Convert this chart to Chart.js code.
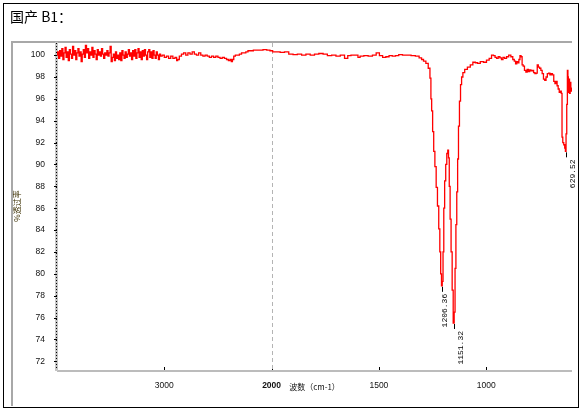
<!DOCTYPE html>
<html><head><meta charset="utf-8">
<script src="https://cdn.jsdelivr.net/npm/chart.js@4.4.0/dist/chart.umd.min.js"></script>
<style>html,body{margin:0;padding:0;background:#fff;}canvas{display:block;}</style>
</head><body>
<canvas id="c" width="586" height="413"></canvas>
<script>
// ---------- text ----------
const chartTitle = '国产 B1：';
const xAxisTitle = '波数（cm-1）';
const yAxisTitle = '%透过率';

// ---------- ticks ----------
const xTickWavenumbers = [3000, 2000, 1500, 1000];
const xTickLabels = ['3000', '2000', '1500', '1000'];
const yTickValues = [72, 74, 76, 78, 80, 82, 84, 86, 88, 90, 92, 94, 96, 98, 100];
const yTickLabels = ['72', '74', '76', '78', '80', '82', '84', '86', '88', '90', '92', '94', '96', '98', '100'];

// ---------- labelled peaks ----------
const peakWavenumbers = [1206.36, 1151.32, 629.52];
const peakLabels = ['1206.36', '1151.32', '629.52'];

// ---------- spectrum: [wavenumber cm-1, %T] ----------
const spectrumHigh = [ // 4000 - 3040 (noisy)
 [4000,100.0],[3990,100.3],[3980,99.7],[3970,100.4],[3960,99.9],[3950,100.6],[3940,99.6],[3930,100.2],[3920,100.7],[3910,99.8],
 [3900,100.3],[3890,99.5],[3880,100.5],[3870,100.1],[3860,99.7],[3850,100.8],[3840,100.0],[3830,100.4],[3820,99.6],[3810,100.2],
 [3800,100.6],[3790,99.9],[3780,100.3],[3770,99.4],[3760,100.1],[3750,100.5],[3740,99.8],[3730,100.9],[3720,100.2],[3710,100.6],
 [3700,99.7],[3690,100.3],[3680,100.0],[3670,100.7],[3660,99.8],[3650,100.4],[3640,100.1],[3630,99.6],[3620,100.5],[3610,100.0],
 [3600,100.3],[3590,99.9],[3580,100.6],[3570,100.1],[3560,99.7],[3550,100.2],[3540,100.0],[3530,100.4],[3520,99.9],[3510,100.2],
 [3500,100.8],[3490,99.4],[3480,99.8],[3470,100.1],[3460,99.5],[3450,100.3],[3440,99.7],[3430,100.0],[3420,99.6],[3410,100.2],
 [3400,99.5],[3390,100.4],[3380,100.0],[3370,99.7],[3360,100.3],[3350,99.8],[3340,100.1],[3330,100.5],[3320,99.9],[3310,100.2],
 [3300,99.6],[3290,100.4],[3280,99.9],[3270,100.5],[3260,99.7],[3250,100.2],[3240,100.6],[3230,99.8],[3220,100.3],[3210,99.6],
 [3200,100.4],[3190,99.9],[3180,100.5],[3170,100.0],[3160,99.6],[3150,100.3],[3140,100.5],[3130,99.8],[3120,100.3],[3110,99.7],
 [3100,100.4],[3090,100.0],[3080,99.7],[3070,100.3],[3060,100.0],[3050,99.6],[3040,100.1]
];
const spectrumMid = [ // 3030 - 2000
 [3030,99.9],[3010,100.0],[2990,99.8],[2970,99.9],[2950,99.7],[2930,99.9],[2910,99.7],[2890,99.8],[2880,99.5],[2870,99.6],
 [2850,99.9],[2830,100.1],[2810,100.2],[2790,100.0],[2770,100.2],[2750,100.1],[2730,100.3],[2710,100.1],[2690,100.0],[2670,100.2],
 [2650,100.0],[2630,99.9],[2610,100.0],[2590,99.9],[2570,99.8],[2550,99.9],[2530,99.8],[2510,99.9],[2490,99.8],[2470,99.7],
 [2450,99.8],[2430,99.7],[2410,99.6],[2395,99.5],[2380,99.6],[2370,99.4],[2360,99.6],[2345,99.9],[2330,100.0],[2310,100.0],
 [2290,100.1],[2270,100.2],[2250,100.2],[2230,100.3],[2210,100.4],[2190,100.4],[2150,100.45],[2100,100.45],[2060,100.5],[2030,100.45],
 [2000,100.4]
];
const spectrumLow = [ // 1990 - 600
 [1990,100.3],[1970,100.3],[1950,100.25],[1930,100.3],[1910,100.1],[1890,100.05],[1870,100.1],[1850,100.0],[1830,100.1],[1810,100.0],
 [1790,100.1],[1770,100.15],[1750,100.1],[1730,99.95],[1710,100.0],[1690,99.9],[1670,100.0],[1650,99.7],[1640,99.95],[1620,100.0],
 [1600,100.0],[1595,99.8],[1580,99.9],[1560,99.95],[1540,99.9],[1520,100.0],[1505,100.2],[1490,99.95],[1475,99.8],[1460,99.85],
 [1445,99.95],[1430,99.9],[1415,99.95],[1400,100.05],[1380,100.0],[1360,100.0],[1340,99.95],[1320,99.9],[1305,99.75],[1297,99.6],
 [1287,99.45],[1275,99.25],[1265,98.8],[1259,97.9],[1256,96.0],[1252,94.9],[1247,93.0],[1242,91.2],[1236,89.8],[1230,87.9],
 [1224,86.2],[1218,84.1],[1214,82.0],[1210,80.0],[1206.36,78.9],[1203,79.3],[1199,82.0],[1196,86.0],[1191,88.5],[1186,90.0],
 [1181,91.0],[1177,91.3],[1174,90.6],[1170,88.0],[1166,85.0],[1161,82.0],[1156,78.5],[1151.32,75.5],[1147,76.5],[1143,80.5],
 [1139,84.5],[1135,87.5],[1131,90.5],[1127,93.5],[1122,95.8],[1117,97.3],[1112,98.0],[1105,98.4],[1095,98.7],[1080,98.9],
 [1068,99.1],[1056,99.35],[1045,99.3],[1035,99.25],[1020,99.4],[1005,99.35],[992,99.55],[980,99.7],[970,100.0],[962,99.95],
 [955,99.8],[948,99.7],[940,99.85],[932,99.75],[925,99.6],[918,99.8],[910,99.7],[900,99.85],[890,100.0],[880,99.85],
 [872,99.6],[866,99.45],[860,99.2],[855,99.4],[850,99.3],[845,99.6],[840,99.95],[835,99.85],[830,99.1],[825,99.0],
 [818,98.6],[812,98.45],[806,98.7],[800,98.5],[795,98.65],[788,98.55],[782,98.6],[776,98.4],[770,98.3],[764,98.35],
 [760,99.1],[754,98.9],[748,98.8],[742,98.6],[736,98.3],[730,97.8],[724,97.7],[718,98.0],[712,98.3],[706,98.35],
 [700,98.2],[694,98.3],[688,98.2],[682,97.6],[677,97.4],[672,97.6],[667,97.2],[662,96.9],[657,96.6],[652,96.7],
 [648,96.5],[645,92.5],[641,92.0],[636,91.8],[632,91.5],[629.52,91.2],[626,92.8],[623,95.5],[620,98.6],[618,98.0],
 [616,96.6],[613,97.8],[610,96.5],[607,97.5],[604,96.7],[601,97.0]
];

// ---------- axis: 4000-2000 drawn at half scale of 2000-600 ----------
const scaleBreak = 2000;
function toAxis(wn) { return wn <= scaleBreak ? wn : scaleBreak + (wn - scaleBreak) / 2; }
const xMinWn = 600, xMaxWn = 4000;
const yMin = 71.2, yMax = 101.2;

const spectrum = spectrumHigh.concat(spectrumMid, spectrumLow);
const points = spectrum.map(p => ({ x: toAxis(p[0]), y: p[1] }));

const decorPlugin = {
  id: 'decor',
  beforeDraw(chart) {
    const ctx = chart.ctx;
    ctx.save(); ctx.fillStyle = '#fff'; ctx.fillRect(0, 0, chart.width, chart.height); ctx.restore();
  },
  beforeDatasetsDraw(chart) {
    const { ctx, chartArea: a, scales: { x, y } } = chart;
    ctx.save();
    // grey panel frame
    ctx.fillStyle = '#a8a8a8';
    ctx.fillRect(11, a.top - 1, a.right - 11, 2);
    ctx.fillRect(11, a.top - 1, 2, 407 - a.top);
    // x axis line
    ctx.fillStyle = '#bcbcbc';
    ctx.fillRect(a.left, a.bottom, a.right - a.left, 2);
    // y axis band
    ctx.fillStyle = '#c6c6c6';
    ctx.fillRect(a.left - 2, a.top, 3, a.bottom - a.top + 1);
    ctx.strokeStyle = '#000'; ctx.lineWidth = 1;
    ctx.setLineDash([1, 2]);
    ctx.beginPath(); ctx.moveTo(a.left - 0.5, a.top + 1); ctx.lineTo(a.left - 0.5, a.bottom - 2); ctx.stroke();
    ctx.setLineDash([]);
    yTickValues.forEach(v => {
      const py = Math.round(y.getPixelForValue(v)) + 0.5;
      ctx.beginPath(); ctx.moveTo(a.left - 3, py); ctx.lineTo(a.left, py); ctx.stroke();
    });
    xTickWavenumbers.forEach(w => {
      const px = Math.round(x.getPixelForValue(toAxis(w))) + 0.5;
      ctx.beginPath(); ctx.moveTo(px, a.bottom - 3); ctx.lineTo(px, a.bottom); ctx.stroke();
    });
    // dashed line at the scale break
    const pb = Math.round(x.getPixelForValue(toAxis(scaleBreak))) + 0.5;
    ctx.strokeStyle = '#b4b4b4'; ctx.setLineDash([4, 3]);
    ctx.beginPath(); ctx.moveTo(pb, a.top + 1); ctx.lineTo(pb, a.bottom); ctx.stroke();
    ctx.restore();
  },
  afterDatasetsDraw(chart) {
    const ctx = chart.ctx;
    const meta = chart.getDatasetMeta(0);
    const dx = [2, 6, 6];
    ctx.save();
    ctx.strokeStyle = '#000'; ctx.lineWidth = 1;
    ctx.fillStyle = '#000';
    ctx.font = '8px "Liberation Mono", "DejaVu Sans Mono", monospace';
    peakWavenumbers.forEach((w, i) => {
      const idx = spectrum.findIndex(p => p[0] === w);
      const el = meta.data[idx];
      const px = Math.round(el.x) + 0.5, py = el.y;
      ctx.beginPath(); ctx.moveTo(px, py + 1); ctx.lineTo(px, py + 6); ctx.stroke();
      ctx.save();
      ctx.translate(px + dx[i], py + 8);
      ctx.rotate(-Math.PI / 2);
      ctx.textAlign = 'right'; ctx.textBaseline = 'middle';
      ctx.fillText(peakLabels[i], 0, 0);
      ctx.restore();
    });
    ctx.restore();
  },
  afterDraw(chart) {
    const ctx = chart.ctx;
    ctx.save();
    ctx.strokeStyle = '#000'; ctx.lineWidth = 1;
    ctx.strokeRect(3.5, 3.5, 575, 404);
    ctx.fillStyle = '#000';
    ctx.font = '14px "Noto Sans CJK SC", sans-serif';
    ctx.textBaseline = 'alphabetic'; ctx.textAlign = 'left';
    ctx.fillText(chartTitle, 10, 22);
    ctx.restore();
  }
};

new Chart(document.getElementById('c'), {
  type: 'line',
  data: {
    datasets: [{
      data: points,
      borderColor: '#ff0000',
      borderWidth: 1.3,
      pointRadius: 0,
      stepped: 'middle',
      fill: false
    }]
  },
  options: {
    responsive: false,
    animation: false,
    devicePixelRatio: 1,
    layout: { padding: { left: 0, top: 42, right: 14, bottom: 0 } },
    plugins: { legend: { display: false }, tooltip: { enabled: false } },
    scales: {
      x: {
        type: 'linear',
        reverse: true,
        min: toAxis(xMinWn),
        max: toAxis(xMaxWn),
        grid: { display: false },
        border: { display: false },
        afterBuildTicks(s) { s.ticks = xTickWavenumbers.map(w => ({ value: toAxis(w) })); },
        afterFit(s) { s.height = 43; },
        ticks: {
          autoSkip: false,
          maxRotation: 0,
          padding: 3,
          color: '#111',
          font: c => ({ family: '"Liberation Sans", sans-serif', size: 8.5, weight: (c.tick && c.tick.value === toAxis(2000)) ? 'bold' : 'normal' }),
          callback: (v, i) => xTickLabels[i]
        },
        title: {
          display: true, text: xAxisTitle, color: '#111',
          font: { family: '"Noto Sans CJK SC", sans-serif', size: 8 },
          padding: { top: 0, bottom: 21 }
        }
      },
      y: {
        type: 'linear',
        min: yMin, max: yMax,
        grid: { display: false },
        border: { display: false },
        afterBuildTicks(s) { s.ticks = yTickValues.map(v => ({ value: v })); },
        afterFit(s) { s.width = 57; },
        ticks: {
          autoSkip: false,
          padding: 4,
          color: '#111',
          font: { family: '"Liberation Sans", sans-serif', size: 8.5 },
          callback: (v, i) => yTickLabels[i]
        },
        title: {
          display: true, text: yAxisTitle, color: '#3d3000',
          font: { family: '"Noto Sans CJK SC", sans-serif', size: 8 },
          padding: { top: 12, bottom: 0 }
        }
      }
    }
  },
  plugins: [decorPlugin]
});
</script>
</body></html>
